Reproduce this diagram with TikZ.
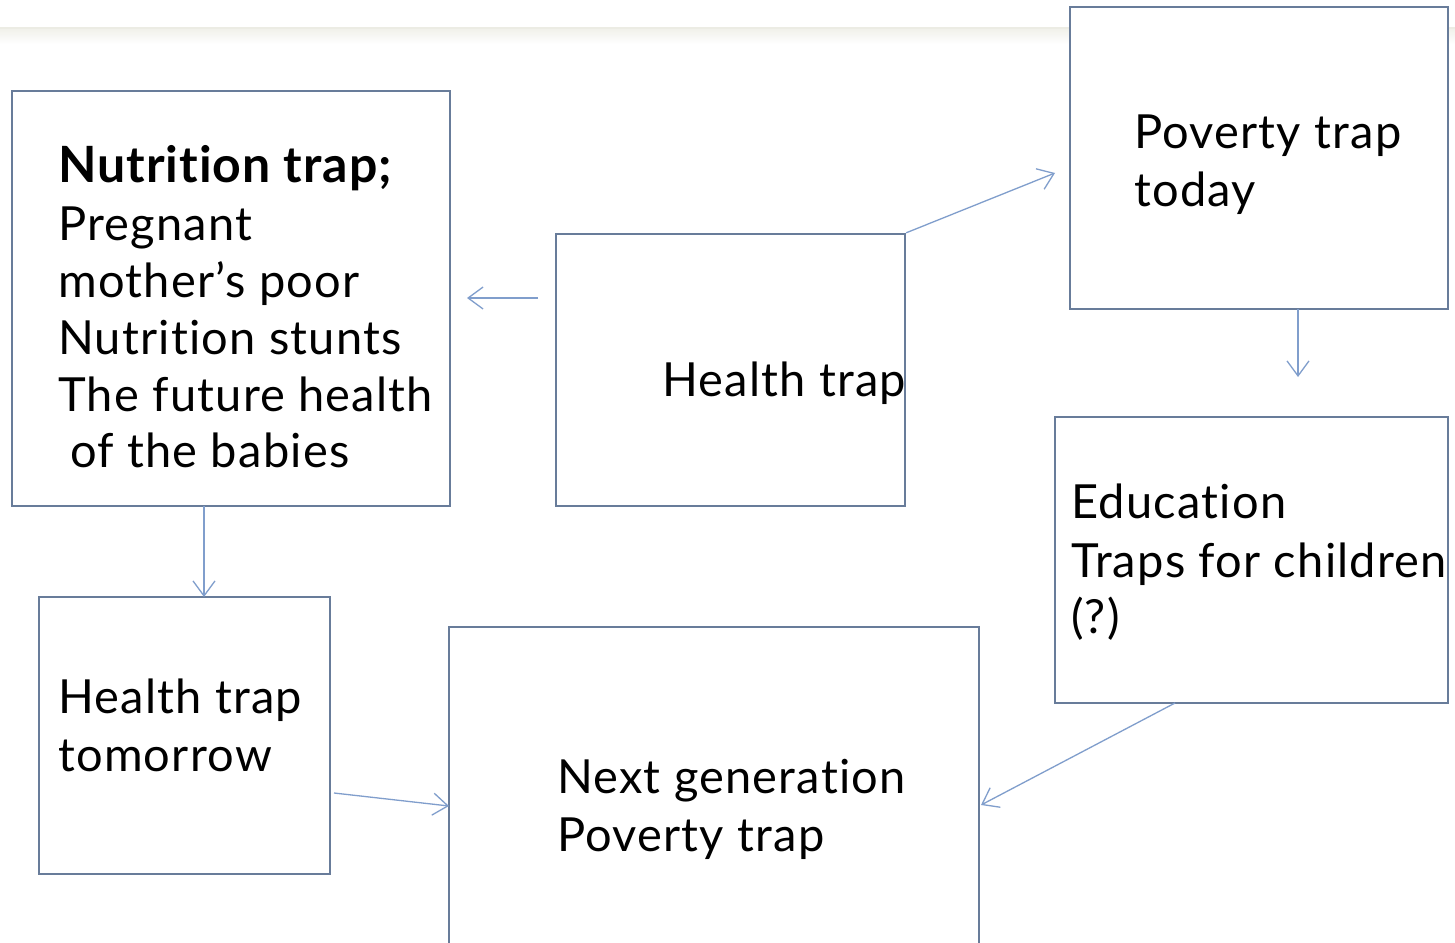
\documentclass[tikz,border=0pt]{standalone}
\usepackage{fontspec}
\setmainfont{Lato}[Ligatures=NoCommon]
\newfontfamily\bodyfont{Lato}[Ligatures=NoCommon, LetterSpace=2.6]
\newfontfamily\headfont{Lato}[Ligatures=NoCommon, LetterSpace=2, BoldFont={Lato Bold}]
\usetikzlibrary{arrows.meta}
\definecolor{boxline}{RGB}{104,124,154}
\definecolor{conline}{RGB}{128,158,204}
\definecolor{bandtop}{RGB}{236,236,228}
\tikzset{
  box/.style={draw=boxline, line width=2.4pt, rectangle, inner sep=0pt, fill=white},
  conn/.style={draw=conline, line width=1.3pt,
    -{Straight Barb[length=15pt, width=22pt, line width=1.3pt]}},
  txt/.style={anchor=base west, inner sep=0pt, font=\bodyfont\fontsize{47}{57}\selectfont},
  txtb/.style={anchor=base west, inner sep=0pt, font=\headfont\bfseries\fontsize{50}{57}\selectfont},
}
\begin{document}
\begin{tikzpicture}[x=1pt, y=-1pt]
  % page and the faint header band
  \useasboundingbox[fill=white] (0,0) rectangle (1455,942);
  \fill[bandtop] (0,27.5) rectangle (1455,30);
  \shade[top color=bandtop!70, bottom color=white] (0,30) rectangle (1455,44);

  % boxes
  \node[box, minimum width=438pt, minimum height=415pt] (nut) at (231,298.5) {};
  \node[box, minimum width=349pt, minimum height=272pt] (hmid) at (730.5,370) {};
  \node[box, minimum width=378pt, minimum height=302pt] (pov) at (1259,158) {};
  \node[box, minimum width=393pt, minimum height=286pt] (edu) at (1251.5,560) {};
  \node[box, minimum width=291pt, minimum height=277pt] (htm) at (184.5,735.5) {};
  \node[box, minimum width=530pt, minimum height=340pt] (nxt) at (714,797) {};

  % texts
  \node[txtb] (n1) at (58,182) {Nutrition trap;};
  \node[txt] (n2) at (58,240) {Pregnant};
  \node[txt] (n3) at (58,297) {mother’s poor};
  \node[txt] (n4) at (58,354) {Nutrition stunts};
  \node[txt] (n5) at (58,411) {The future health};
  \node[txt] (n6) at (70,467) {of the babies};

  \node[txt] (m1) at (662,396) {Health trap};

  \node[txt] (p1) at (1134,148) {Poverty trap};
  \node[txt] (p2) at (1134,206) {today};

  \node[txt] (e1) at (1071,518) {Education};
  \node[txt] (e2) at (1071,577) {Traps for children};
  \node[txt] (e3) at (1071,633) {(?)};

  \node[txt] (t1) at (58,713) {Health trap};
  \node[txt] (t2) at (58,771) {tomorrow};

  \node[txt] (g1) at (557,793) {Next generation};
  \node[txt] (g2) at (557,851) {Poverty trap};

  % connector end points
  \coordinate (lfrom) at (538,298);
  \coordinate (lto) at (467,298);
  \coordinate (povin) at (1055,173);
  \coordinate (povout) at (1298,309);
  \coordinate (eduin) at (1298,377);
  \coordinate (eduout) at (1175,703);
  \coordinate (nxtin) at (981,805);
  \coordinate (htmout) at (334,793);
  \coordinate (nxtleft) at (449,806);
  \coordinate (nutout) at (204,506);
  \coordinate (htmin) at (204,597);

  % connectors
  \draw[conn] (lfrom) -- (lto);
  \draw[conn] (hmid.north east) -- (povin);
  \draw[conn] (povout) -- (eduin);
  \draw[conn] (eduout) -- (nxtin);
  \draw[conn] (htmout) -- (nxtleft);
  \draw[conn] (nutout) -- (htmin);
\end{tikzpicture}
\end{document}
